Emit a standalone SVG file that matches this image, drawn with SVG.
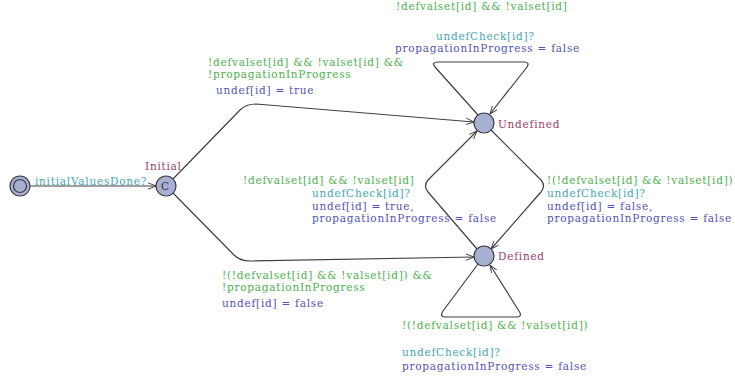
<svg xmlns="http://www.w3.org/2000/svg" width="735" height="383" viewBox="0 0 735 383">
<style>
text{font-family:"DejaVu Serif","Liberation Serif",serif;font-size:10.5px;letter-spacing:0.75px}
.g{fill:#4db04d}
.t{fill:#45a5b5}
.b{fill:#5353b5}
.n{fill:#9c3c64}
.st{fill:#a8b0d2;stroke:#3c3c48;stroke-width:1.2}
.e{fill:none;stroke:#404040;stroke-width:1.2}
</style>
<defs>
<marker id="a" viewBox="0 0 10 10" refX="10" refY="5" markerWidth="8" markerHeight="8" orient="auto" markerUnits="userSpaceOnUse">
<path d="M0,1 L10,5 L0,9" fill="none" stroke="#404040" stroke-width="1.2"/>
</marker>
</defs>
<g id="edges">
<path class="e" d="M30,186 L156,186" marker-end="url(#a)"/>
<path class="e" d="M173,179 L240,110 Q246,104 256,104 L474,122" marker-end="url(#a)"/>
<path class="e" d="M173,193 L234,255 Q240,261 250,261 L474,257" marker-end="url(#a)"/>
<path class="e" d="M478,115 L435,67 Q431,62 438,62 L524,62 Q530,62 527,67 L490,114" marker-end="url(#a)"/>
<path class="e" d="M478,264 L443,311 Q439,317 446,317 L516,317 Q523,317 519,311 L490,265" marker-end="url(#a)"/>
<path class="e" d="M491,130 L541,180 Q546,186 541,192 L491,249" marker-end="url(#a)"/>
<path class="e" d="M477,249 L428,192 Q423,186 428,180 L477,131" marker-end="url(#a)"/>
</g>
<g id="init">
<circle class="st" cx="20" cy="186" r="10"/>
<circle class="st" cx="20" cy="186" r="6.5"/>
</g>
<g id="Initial">
<circle class="st" cx="166" cy="186" r="10"/>
<text x="161" y="190" style="fill:#303040;letter-spacing:0">C</text>
<text class="n" x="145" y="170">Initial</text>
</g>
<g id="Undefined">
<circle class="st" cx="484" cy="123" r="10"/>
<text class="n" x="498" y="128">Undefined</text>
</g>
<g id="Defined">
<circle class="st" cx="484" cy="256" r="10"/>
<text class="n" x="498" y="260">Defined</text>
</g>
<g id="labels">
<text class="t" x="35" y="185">initialValuesDone?</text>
<text class="g" x="396" y="10">!defvalset[id] &amp;&amp; !valset[id]</text>
<text class="t" x="436" y="40">undefCheck[id]?</text>
<text class="b" x="395" y="52">propagationInProgress = false</text>
<text class="g" x="208" y="66">!defvalset[id] &amp;&amp; !valset[id] &amp;&amp;</text>
<text class="g" x="208" y="78">!propagationInProgress</text>
<text class="b" x="216" y="94">undef[id] = true</text>
<text class="g" x="243" y="184">!defvalset[id] &amp;&amp; !valset[id]</text>
<text class="t" x="312" y="197">undefCheck[id]?</text>
<text class="b" x="312" y="210">undef[id] = true,</text>
<text class="b" x="312" y="222">propagationInProgress = false</text>
<text class="g" x="547" y="184">!(!defvalset[id] &amp;&amp; !valset[id])</text>
<text class="t" x="547" y="197">undefCheck[id]?</text>
<text class="b" x="547" y="210">undef[id] = false,</text>
<text class="b" x="547" y="222">propagationInProgress = false</text>
<text class="g" x="222" y="279">!(!defvalset[id] &amp;&amp; !valset[id]) &amp;&amp;</text>
<text class="g" x="222" y="291">!propagationInProgress</text>
<text class="b" x="222" y="307">undef[id] = false</text>
<text class="g" x="402" y="329">!(!defvalset[id] &amp;&amp; !valset[id])</text>
<text class="t" x="402" y="356">undefCheck[id]?</text>
<text class="b" x="402" y="370">propagationInProgress = false</text>
</g>
</svg>
